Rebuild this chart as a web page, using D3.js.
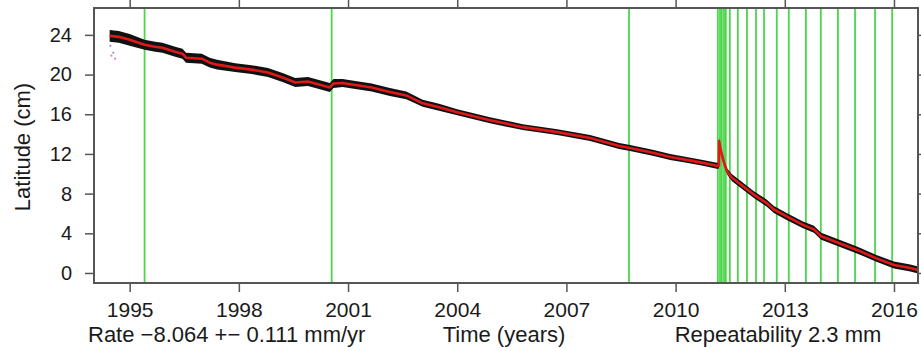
<!DOCTYPE html>
<html>
<head>
<meta charset="utf-8">
<script src="https://cdn.jsdelivr.net/npm/d3@7/dist/d3.min.js"></script>
<style>
  html, body { margin: 0; padding: 0; background: #fff; }
  svg { display: block; }
  text { font-family: "Liberation Sans", Arial, Helvetica, sans-serif; fill: #1a1a1a; }
</style>
</head>
<body>
<svg id="chart" width="921" height="351"></svg>
<script>
// Station latitude time series (cm) and its fitted model
const years = [1994.45, 1994.7, 1995.0, 1995.41, 1995.7, 1995.9, 1996.25, 1996.45, 1996.55, 1996.98,
  1997.2, 1997.4, 1997.9, 1998.35, 1998.8, 1999.2, 1999.55, 1999.9, 2000.2, 2000.5,
  2000.6, 2000.85, 2001.2, 2001.65, 2002.15, 2002.6, 2003.05, 2003.5, 2004.0, 2004.9,
  2005.8, 2006.75, 2007.65, 2008.45, 2008.75, 2009.4, 2009.85, 2010.3, 2010.75, 2011.13,
  2011.19, 2011.195, 2011.23, 2011.28, 2011.34, 2011.42, 2011.55, 2011.8, 2012.15, 2012.5,
  2012.7, 2013.05, 2013.5, 2013.8, 2014.0, 2014.5, 2015.0, 2015.5, 2016.0, 2016.45, 2016.66];
const latitude = [23.9, 23.8, 23.5, 23.0, 22.8, 22.7, 22.3, 22.1, 21.7, 21.6,
  21.2, 21.0, 20.7, 20.5, 20.2, 19.7, 19.2, 19.3, 19.0, 18.7,
  19.1, 19.15, 18.95, 18.7, 18.25, 17.9, 17.1, 16.7, 16.2, 15.4,
  14.7, 14.2, 13.6, 12.8, 12.6, 12.1, 11.7, 11.4, 11.1, 10.8,
  10.8, 13.3, 12.6, 11.8, 11.0, 10.2, 9.6, 8.9, 7.9, 7.05,
  6.4, 5.7, 4.85, 4.4, 3.7, 3.0, 2.3, 1.5, 0.8, 0.5, 0.3];
// half-width of the daily scatter around the model (cm)
const scatter = [0.6, 0.6, 0.6, 0.5, 0.5, 0.5, 0.5, 0.5, 0.5, 0.5,
  0.5, 0.5, 0.45, 0.45, 0.45, 0.45, 0.45, 0.45, 0.45, 0.45,
  0.45, 0.4, 0.4, 0.4, 0.4, 0.4, 0.35, 0.35, 0.3, 0.3,
  0.3, 0.3, 0.3, 0.3, 0.3, 0.3, 0.3, 0.3, 0.3, 0.3,
  0.3, 0.3, 0.3, 0.3, 0.3, 0.3, 0.35, 0.35, 0.35, 0.35,
  0.35, 0.35, 0.35, 0.35, 0.35, 0.35, 0.35, 0.35, 0.35, 0.35, 0.35];

// Rejected early observations
const outlierYears = [1994.47, 1994.55, 1994.6, 1994.5];
const outlierLat = [22.9, 22.2, 21.6, 21.9];
const outlierColor = ["#8899cc", "#8899cc", "#ee8899", "#ee8899"];

// Epochs of equipment changes / events
const eventYears = [1995.41, 2000.55, 2008.72,
  2011.16, 2011.22, 2011.27, 2011.33, 2011.38, 2011.49, 2011.71, 2011.96,
  2012.21, 2012.43, 2012.78, 2013.11, 2013.58, 2013.99, 2014.46, 2014.93,
  2015.48, 2015.95];

const xTicks = [1995, 1998, 2001, 2004, 2007, 2010, 2013, 2016];
const yTicks = [0, 4, 8, 12, 16, 20, 24];

const rateText = "Rate \u22128.064 +\u2212 0.111 mm/yr";
const xTitle = "Time (years)";
const repText = "Repeatability 2.3 mm";
const yTitle = "Latitude (cm)";

const svg = d3.select("#chart");
const pLeft = 94, pRight = 918, pTop = 8, pBottom = 283;

const x = d3.scaleLinear().domain([1994.02, 2016.66]).range([pLeft, pRight]);
const y = d3.scaleLinear().domain([-1.01, 26.71]).range([pBottom, pTop]);

const plot = svg.append("g");
plot.append("clipPath").attr("id", "clip")
  .append("rect").attr("x", pLeft).attr("y", pTop)
  .attr("width", pRight - pLeft).attr("height", pBottom - pTop);

// event lines
plot.append("g").selectAll("line").data(eventYears).join("line")
  .attr("x1", d => x(d)).attr("x2", d => x(d))
  .attr("y1", pTop).attr("y2", pBottom)
  .attr("stroke", "#4cd64c").attr("stroke-width", 1.8);

const series = years.map((t, i) => ({ t, v: latitude[i], s: scatter[i] }));

const g = plot.append("g").attr("clip-path", "url(#clip)");

// daily scatter band
g.append("path").datum(series)
  .attr("d", d3.area().x(d => x(d.t)).y0(d => y(d.v - d.s)).y1(d => y(d.v + d.s)))
  .attr("fill", "#111");

// model
g.append("path").datum(series)
  .attr("d", d3.line().x(d => x(d.t)).y(d => y(d.v)))
  .attr("fill", "none").attr("stroke", "#e01818").attr("stroke-width", 2.6)
  .attr("stroke-linejoin", "round");

g.append("g").selectAll("circle").data(outlierYears).join("circle")
  .attr("cx", d => x(d)).attr("cy", (d, i) => y(outlierLat[i]))
  .attr("r", 1.1).attr("fill", (d, i) => outlierColor[i]);

// axes
const axisColor = "#555";
function styleAxis(sel, size) {
  sel.select(".domain").remove();
  sel.selectAll(".tick line").attr("stroke", axisColor).attr("stroke-width", 1.5);
  sel.selectAll(".tick text").attr("fill", "#1a1a1a").style("font-size", size + "px")
    .style("font-family", "'Liberation Sans', Arial, sans-serif");
}

svg.append("g").attr("transform", `translate(0,${pBottom})`)
  .call(d3.axisBottom(x).tickValues(xTicks).tickFormat(d3.format("d")).tickSize(9).tickPadding(10))
  .call(styleAxis, 21);
svg.append("g").attr("transform", `translate(0,${pTop})`)
  .call(d3.axisTop(x).tickValues(xTicks).tickFormat("").tickSize(8))
  .call(styleAxis, 21);
svg.append("g").attr("transform", `translate(${pLeft},0)`)
  .call(d3.axisLeft(y).tickValues(yTicks).tickFormat(d3.format("d")).tickSize(9).tickPadding(13))
  .call(styleAxis, 20);
svg.append("g").attr("transform", `translate(${pRight},0)`)
  .call(d3.axisRight(y).tickValues(yTicks).tickFormat("").tickSize(6))
  .call(styleAxis, 20);

// frame
svg.append("rect").attr("x", pLeft).attr("y", pTop)
  .attr("width", pRight - pLeft).attr("height", pBottom - pTop)
  .attr("fill", "none").attr("stroke", axisColor).attr("stroke-width", 2);

// titles
svg.append("text").attr("x", 88).attr("y", 342).style("font-size", "22px").text(rateText);
svg.append("text").attr("x", 504).attr("y", 342).attr("text-anchor", "middle").style("font-size", "22px").text(xTitle);
svg.append("text").attr("x", 778).attr("y", 342).attr("text-anchor", "middle").style("font-size", "22px").text(repText);
svg.append("text").attr("transform", "translate(30,147) rotate(-90)")
  .attr("text-anchor", "middle").style("font-size", "22px").text(yTitle);
</script>
</body>
</html>
